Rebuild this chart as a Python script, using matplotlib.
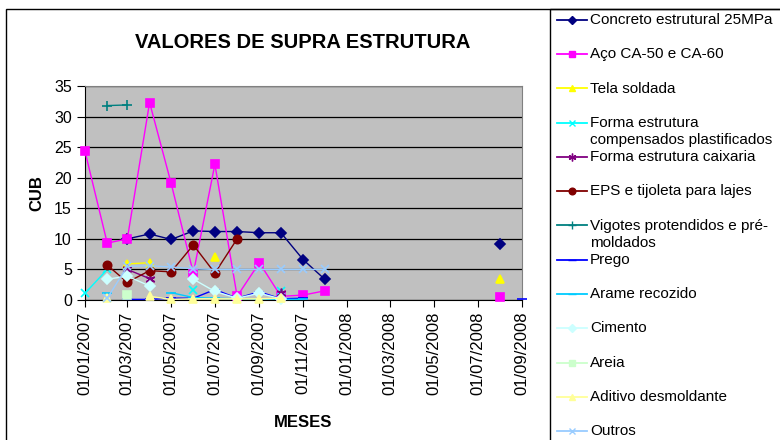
#!/usr/bin/env python

'''Valores de supra estrutura - monthly CUB values per item'''

import numpy as np
import matplotlib
matplotlib.use('Agg')
import matplotlib.pyplot as plt
import matplotlib.dates as mdates
from matplotlib.lines import Line2D
from matplotlib.patches import Rectangle

n = np.nan

# one value per month, Jan 2007 .. Sep 2008
months = np.arange('2007-01', '2008-10', dtype='datetime64[M]').astype('datetime64[D]')

concreto   = [n, n, 10.0, 10.8, 9.9, 11.3, 11.2, 11.2, 11.0, 11.0, 6.6, 3.4,
              n, n, n, n, n, n, n, 9.1, n]
aco        = [24.3, 9.3, 10.0, 32.3, 19.1, 4.4, 22.2, 0.6, 6.1, 0.6, 0.8, 1.5,
              n, n, n, n, n, n, n, 0.5, n]
tela       = [n, n, 5.9, 6.1, n, n, 7.0, n, n, n, n, n,
              n, n, n, n, n, n, n, 3.4, n]
forma_comp = [1.1, 5.0, n, n, n, 1.6, n, n, n, 1.5, n, n,
              n, n, n, n, n, n, n, n, n]
forma_caix = [n, n, 5.0, 3.5, n, n, n, n, n, 1.2, n, n,
              n, n, n, n, n, n, n, n, n]
eps        = [n, 5.7, 2.9, 4.8, 4.6, 9.0, 4.4, 10.0, n, n, n, n,
              n, n, n, n, n, n, n, n, n]
vigotes    = [n, 31.8, 31.9, n, n, n, n, n, n, n, n, n,
              n, n, n, n, n, n, n, n, n]
prego      = [n, n, 0.1, 0.1, 0.3, 0.3, 1.7, 0.3, 1.35, 0.2, 0.3, n,
              n, n, n, n, n, n, n, n, 0.1]
arame      = [n, 1.1, n, n, 1.2, 0.4, 0.3, 0.2, 0.2, 0.1, 0.1, n,
              n, n, n, n, n, n, n, n, n]
cimento    = [n, 3.4, 3.9, 2.3, n, 3.4, 1.4, 0.3, 1.1, 0.2, n, n,
              n, n, n, n, n, n, n, n, n]
areia      = [n, n, 0.8, n, n, n, n, n, n, n, n, n,
              n, n, n, n, n, n, n, n, n]
aditivo    = [n, 0.3, n, 0.6, 0.1, 0.2, 0.2, 0.2, 0.2, 0.3, n, n,
              n, n, n, n, n, n, n, n, n]
outros     = [n, 0.3, 5.5, 5.6, 5.4, 5.1, 5.0, 5.0, 5.0, 5.0, 5.0, 5.0,
              n, n, n, n, n, n, n, n, n]

names = ['Concreto estrutural 25MPa', 'Aço CA-50 e CA-60', 'Tela soldada',
         'Forma estrutura\ncompensados plastificados', 'Forma estrutura caixaria',
         'EPS e tijoleta para lajes', 'Vigotes protendidos e pré-\nmoldados',
         'Prego', 'Arame recozido', 'Cimento', 'Areia', 'Aditivo desmoldante', 'Outros']
series = [concreto, aco, tela, forma_comp, forma_caix, eps, vigotes,
          prego, arame, cimento, areia, aditivo, outros]
colours = ['#000080', '#FF00FF', '#FFFF00', '#00FFFF', '#800080', '#800000', '#008080',
           '#0000FF', '#00CCFF', '#CCFFFF', '#CCFFCC', '#FFFF99', '#99CCFF']
markers = ['D', 's', '^', 'x', (6, 2, 0), 'o', '+', '_', '_', 'D', 's', '^', 'x']
msizes  = [5, 6, 6, 6, 7, 6, 7, 7, 7, 5, 6, 6, 6]

plt.rcParams['font.family'] = ['Liberation Sans', 'DejaVu Sans']

fig = plt.figure(figsize=(7.8, 4.4), dpi=100)
ax  = fig.add_axes([85/780, 1-300/440, 437/780, 214/440])
ax.set_facecolor('#C0C0C0')

for vals, c, m, ms in zip(series, colours, markers, msizes):
      ax.plot(months, vals, color=c, lw=1.0, marker=m, ms=ms,
              mec=c, mfc=c, mew=1.2, clip_on=False, zorder=3)

ax.set_xlim(np.datetime64('2007-01-01'), np.datetime64('2008-09-01'))
ax.set_ylim(0, 35)
ax.set_yticks(range(0, 36, 5))
ax.xaxis.set_major_locator(mdates.MonthLocator(bymonth=[1, 3, 5, 7, 9, 11]))
ax.xaxis.set_major_formatter(mdates.DateFormatter('%d/%m/%Y'))
ax.tick_params(axis='x', rotation=90, labelsize=12, length=5, direction='out')
ax.tick_params(axis='y', labelsize=11.5, length=6, direction='out')
ax.grid(True, axis='y', color='black', lw=0.9)
ax.set_axisbelow(True)
for s in ('top', 'right'):
      ax.spines[s].set_color('#808080')
ax.spines['left'].set_color('black')
ax.spines['bottom'].set_color('black')

ax.set_ylabel('CUB', fontsize=12, fontweight='bold', labelpad=7)
ax.set_xlabel('MESES', fontsize=12, fontweight='bold', labelpad=14)
fig.text(303/780, 1-42/440, 'VALORES DE SUPRA ESTRUTURA', fontsize=14.5,
         fontweight='bold', ha='center', va='center')

# chart and legend frames
fig.add_artist(Rectangle((6/780, -0.1), 1.2, 1.1-9/440, transform=fig.transFigure,
                         fill=False, ec='black', lw=1.0))
fig.add_artist(Rectangle((550/780, -0.1), 1.0, 1.1-9/440, transform=fig.transFigure,
                         fill=False, ec='black', lw=1.0))

# legend drawn by hand: fixed row pitch, first text line aligned with the key
for i, (name, c, m, ms) in enumerate(zip(names, colours, markers, msizes)):
      y = 1 - (20 + i*34.25)/440
      fig.add_artist(Line2D([557/780, 587/780], [y, y], transform=fig.transFigure,
                            color=c, lw=1.3))
      fig.add_artist(Line2D([572/780], [y], transform=fig.transFigure, color=c,
                            marker=m, ms=ms*0.8, mec=c, mfc=c, mew=1.0))
      fig.text(590/780, y + 7/440, name, fontsize=11, va='top', ha='left',
               linespacing=1.3, transform=fig.transFigure)

fig.savefig('out.png', dpi=100)
